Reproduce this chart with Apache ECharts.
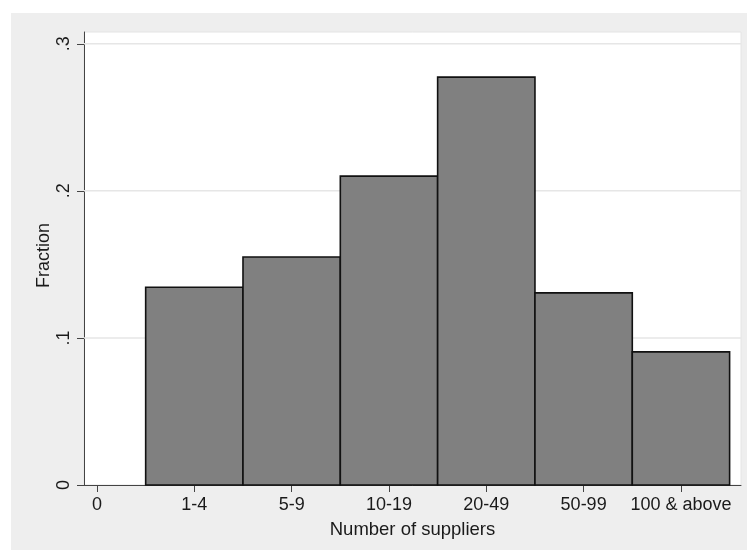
<!DOCTYPE html>
<html>
<head>
<meta charset="utf-8">
<script src="https://cdn.jsdelivr.net/npm/echarts@6/dist/echarts.min.js"></script>
<style>
  html, body { margin: 0; padding: 0; background: #fff; }
  #main { width: 747px; height: 550px; }
</style>
</head>
<body>
<div id="main"></div>
<script>
// bins on the x scale (0 has no bar)
var tickPos = [0, 1, 2, 3, 4, 5, 6];
var tickLabels = ['0', '1-4', '5-9', '10-19', '20-49', '50-99', '100 & above'];
var barPos = [1, 2, 3, 4, 5, 6];
var fractions = [0.1345, 0.155, 0.210, 0.2773, 0.1306, 0.0905];
var yTicks = [0, 0.1, 0.2, 0.3];

var font = 'Liberation Sans, Arial, sans-serif';
var chart = echarts.init(document.getElementById('main'));

var option = {
  backgroundColor: '#fff',
  animation: false,
  graphic: [{
    type: 'rect', z: -10, silent: true,
    shape: { x: 11, y: 13, width: 736, height: 537 },
    style: { fill: '#eeeeee' }
  }],
  grid: {
    left: 84, right: 6, top: 32, bottom: 65,
    show: true, backgroundColor: '#fff', borderColor: '#e4e4e4', borderWidth: 1
  },
  xAxis: {
    type: 'value',
    min: -0.1336, max: 6.617,
    name: 'Number of suppliers',
    nameLocation: 'middle',
    nameGap: 35,
    nameTextStyle: { fontFamily: font, fontSize: 18.5, color: '#1a1a1a' },
    axisLine: { show: true, onZero: false, lineStyle: { color: '#444', width: 1 } },
    axisTick: { show: true, customValues: tickPos, length: 7, lineStyle: { color: '#444' } },
    axisLabel: {
      customValues: tickPos, margin: 11,
      fontFamily: font, fontSize: 18, color: '#1a1a1a',
      formatter: function (v) { return tickLabels[Math.round(v)]; }
    },
    splitLine: { show: false }
  },
  yAxis: {
    type: 'value',
    min: 0, max: 0.308,
    name: 'Fraction',
    nameLocation: 'middle',
    nameRotate: 90,
    nameGap: 31,
    nameMoveOverlap: false,
    nameTextStyle: { fontFamily: font, fontSize: 18, color: '#1a1a1a', padding: [0, 0, 0, 6] },
    axisLine: { show: true, onZero: false, lineStyle: { color: '#444', width: 1 } },
    axisTick: { show: true, customValues: yTicks, length: 7, lineStyle: { color: '#444' } },
    axisLabel: {
      customValues: yTicks, rotate: 90, margin: 11,
      fontFamily: font, fontSize: 18, color: '#1a1a1a',
      formatter: function (v) {
        if (v === 0) return '0';
        return '.' + Math.round(v * 10);
      }
    },
    splitLine: { show: false }
  },
  series: [{
    // light horizontal grid at .1 .2 .3
    type: 'custom',
    data: yTicks.slice(1),
    silent: true,
    z: 1,
    renderItem: function (params, api) {
      var y = api.value(0);
      var a = api.coord([-0.1336, y]);
      var b = api.coord([6.617, y]);
      return {
        type: 'line',
        shape: { x1: a[0], y1: a[1], x2: b[0], y2: b[1] },
        style: { stroke: '#e6e6e6', lineWidth: 1.5 }
      };
    },
    encode: { y: 0 }
  }, {
    type: 'custom',
    data: barPos.map(function (p, i) { return [p, fractions[i]]; }),
    z: 2,
    renderItem: function (params, api) {
      var x = api.value(0), v = api.value(1);
      var tl = api.coord([x - 0.5, v]);
      var br = api.coord([x + 0.5, 0]);
      return {
        type: 'rect',
        shape: { x: tl[0], y: tl[1], width: br[0] - tl[0], height: br[1] - tl[1] },
        style: { fill: '#808080', stroke: '#111', lineWidth: 1.6 }
      };
    },
    encode: { x: 0, y: 1 }
  }]
};

chart.setOption(option);
</script>
</body>
</html>
